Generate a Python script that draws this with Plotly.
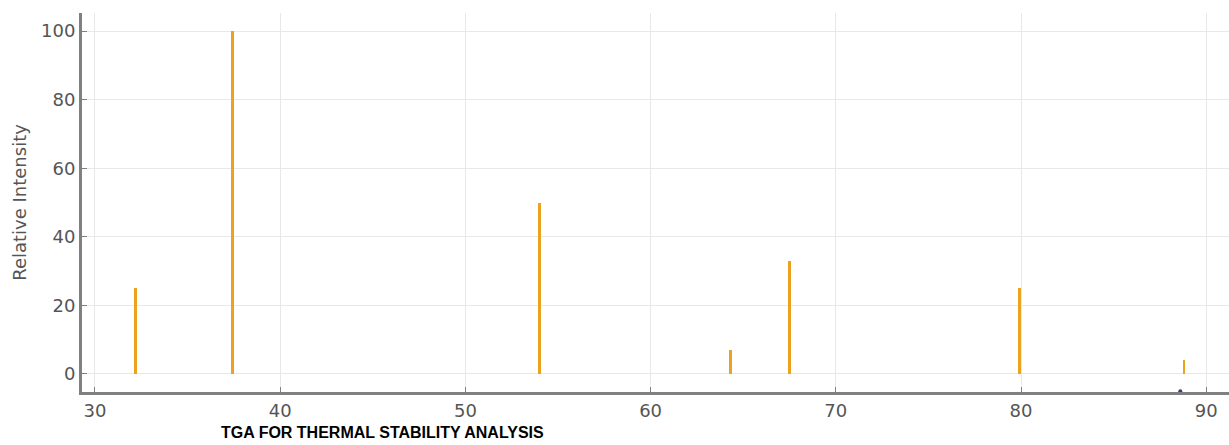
import plotly.graph_objects as go

two_theta = [32.2, 37.4, 54.0, 64.3, 67.5, 79.9, 88.8]
intensity = [25, 100, 50, 7, 33, 25, 4]
marker_x = [88.6]
marker_y = [-5]
x_ticks = [30, 40, 50, 60, 70, 80, 90]
y_ticks = [0, 20, 40, 60, 80, 100]
title_text = "TGA FOR THERMAL STABILITY ANALYSIS"
y_title = "Relative Intensity"

fig = go.Figure()
fig.add_trace(go.Bar(x=two_theta, y=intensity, width=0.16,
                     marker=dict(color="#eba21f", line=dict(width=0)),
                     showlegend=False))
fig.add_trace(go.Scatter(x=marker_x, y=marker_y, mode="markers",
                         marker=dict(color="#3a3a8c", size=4),
                         showlegend=False, cliponaxis=False))

axis_font = dict(family="DejaVu Sans", size=18, color="#555555")
fig.update_layout(
    width=1229, height=445,
    margin=dict(l=82, r=0, t=13, b=53),
    paper_bgcolor="white", plot_bgcolor="white",
    bargap=0,
    xaxis=dict(range=[29.3, 91.23], tickvals=x_ticks, tickfont=axis_font,
               showgrid=True, gridcolor="#e8e8e8", gridwidth=1,
               showline=True, linecolor="#808080", linewidth=3,
               ticks="inside", ticklen=5, tickcolor="#808080", zeroline=False),
    yaxis=dict(range=[-5.25, 105.25], tickvals=y_ticks, tickfont=axis_font,
               showgrid=True, gridcolor="#e8e8e8", gridwidth=1,
               showline=True, linecolor="#808080", linewidth=3,
               ticks="inside", ticklen=5, tickcolor="#808080", zeroline=False,
               title=dict(text=y_title, font=dict(family="DejaVu Sans", size=18, color="#555555"),
                          standoff=10)),
    annotations=[dict(text="<b>" + title_text + "</b>", x=0.262, y=-0.108,
                      xref="paper", yref="paper", xanchor="center", yanchor="middle",
                      showarrow=False,
                      font=dict(family="Liberation Sans", size=16, color="black"))],
)

fig.write_html("out.html", config={"displayModeBar": False},
               post_script="document.body.style.margin='0px';")
